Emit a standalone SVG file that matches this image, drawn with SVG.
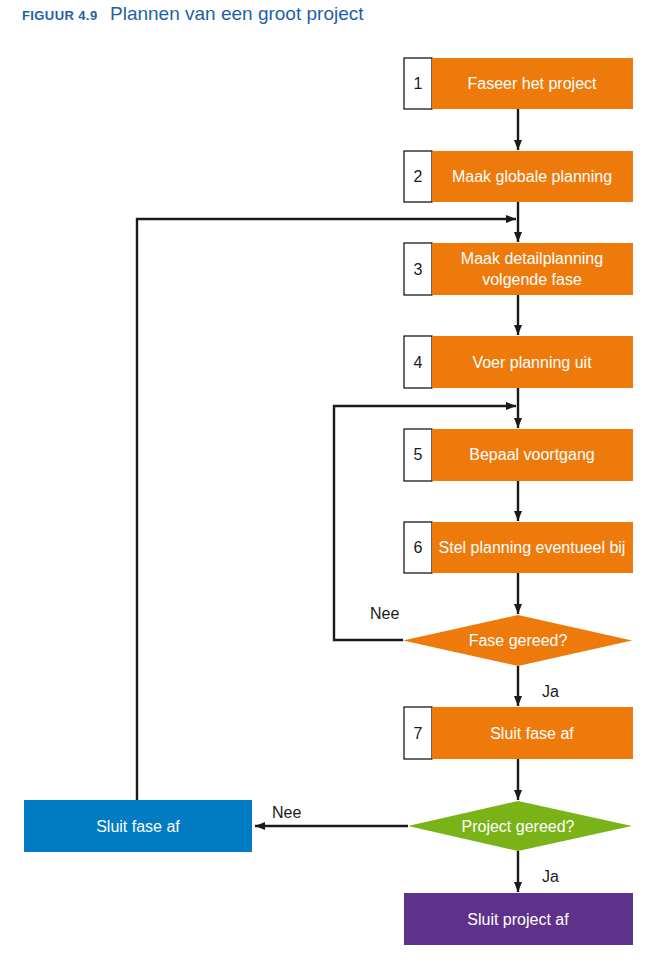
<svg xmlns="http://www.w3.org/2000/svg" width="666" height="966" viewBox="0 0 666 966">
<style>
.num{fill:#fff;stroke:#1a1a1a;stroke-width:1.3}
.org{fill:#EE7A0C}
.lbl{font-family:"Liberation Sans Narrow","Liberation Sans",Arial,sans-serif;font-size:16px;fill:#fff;text-anchor:middle}
.n{font-family:"Liberation Sans",Arial,sans-serif;font-size:16px;fill:#1a1a1a;text-anchor:middle}
.t{font-family:"Liberation Sans Narrow","Liberation Sans",Arial,sans-serif;font-size:16px;fill:#1a1a1a}
.c{fill:none;stroke:#1a1a1a;stroke-width:2.4}
</style>
<defs>
<marker id="ah" markerWidth="10" markerHeight="10" viewBox="0 0 10 10" refX="10" refY="5" orient="auto" markerUnits="userSpaceOnUse">
<path d="M0,1 L10,5 L0,9 Z" fill="#1a1a1a"/>
</marker>
</defs>
<rect width="666" height="966" fill="#fff"/>
<g id="title">
<text x="22" y="20" font-family="Liberation Sans,Arial,sans-serif" font-size="13" font-weight="bold" fill="#1F5FA8" letter-spacing="0.4">FIGUUR 4.9</text>
<text x="110" y="20" font-family="Liberation Sans,Arial,sans-serif" font-size="19" fill="#1F5FA8">Plannen van een groot project</text>
</g>
<g id="connectors">
<line class="c" x1="518" y1="109" x2="518" y2="150" marker-end="url(#ah)"/>
<line class="c" x1="518" y1="202" x2="518" y2="242" marker-end="url(#ah)"/>
<line class="c" x1="518" y1="295" x2="518" y2="335" marker-end="url(#ah)"/>
<line class="c" x1="518" y1="388" x2="518" y2="428" marker-end="url(#ah)"/>
<line class="c" x1="518" y1="481" x2="518" y2="521" marker-end="url(#ah)"/>
<line class="c" x1="518" y1="573" x2="518" y2="614" marker-end="url(#ah)"/>
<line class="c" x1="518" y1="666" x2="518" y2="706" marker-end="url(#ah)"/>
<line class="c" x1="518" y1="759" x2="518" y2="800" marker-end="url(#ah)"/>
<line class="c" x1="518" y1="851" x2="518" y2="892" marker-end="url(#ah)"/>
<polyline class="c" points="403,640 334,640 334,406 516,406" marker-end="url(#ah)"/>
<polyline class="c" points="137,800 137,219 516,219" marker-end="url(#ah)"/>
<line class="c" x1="408" y1="826" x2="255" y2="826" marker-end="url(#ah)"/>
<text class="t" x="370" y="619">Nee</text>
<text class="t" x="542" y="697">Ja</text>
<text class="t" x="272" y="818">Nee</text>
<text class="t" x="542" y="882">Ja</text>
</g>
<g id="step1"><rect class="num" x="404" y="58" width="28" height="51"/><rect class="org" x="432" y="58" width="201" height="51"/><text class="n" x="418" y="89">1</text><text class="lbl" x="532" y="89">Faseer het project</text></g>
<g id="step2"><rect class="num" x="404" y="151" width="28" height="51"/><rect class="org" x="432" y="151" width="201" height="51"/><text class="n" x="418" y="182">2</text><text class="lbl" x="532" y="182">Maak globale planning</text></g>
<g id="step3"><rect class="num" x="404" y="243" width="28" height="52"/><rect class="org" x="432" y="243" width="201" height="52"/><text class="n" x="418" y="275">3</text><text class="lbl" x="532" y="264">Maak detailplanning</text><text class="lbl" x="532" y="285">volgende fase</text></g>
<g id="step4"><rect class="num" x="404" y="336" width="28" height="52"/><rect class="org" x="432" y="336" width="201" height="52"/><text class="n" x="418" y="368">4</text><text class="lbl" x="532" y="368">Voer planning uit</text></g>
<g id="step5"><rect class="num" x="404" y="429" width="28" height="52"/><rect class="org" x="432" y="429" width="201" height="52"/><text class="n" x="418" y="460">5</text><text class="lbl" x="532" y="460">Bepaal voortgang</text></g>
<g id="step6"><rect class="num" x="404" y="522" width="28" height="51"/><rect class="org" x="432" y="522" width="201" height="51"/><text class="n" x="418" y="553">6</text><text class="lbl" x="532" y="553">Stel planning eventueel bij</text></g>
<g id="decision1"><polygon class="org" points="518,615 632,640.5 518,666 403,640.5"/><text class="lbl" x="518" y="646">Fase gereed?</text></g>
<g id="step7"><rect class="num" x="404" y="707" width="28" height="52"/><rect class="org" x="432" y="707" width="201" height="52"/><text class="n" x="418" y="739">7</text><text class="lbl" x="532" y="739">Sluit fase af</text></g>
<g id="decision2"><polygon fill="#7AB317" points="518,801 632,826 518,851 408,826"/><text class="lbl" x="518" y="832">Project gereed?</text></g>
<g id="closephase"><rect fill="#007BC4" x="24" y="800" width="228" height="52"/><text class="lbl" x="138" y="832">Sluit fase af</text></g>
<g id="closeproject"><rect fill="#5E318B" x="404" y="893" width="229" height="52"/><text class="lbl" x="518" y="925">Sluit project af</text></g>
</svg>
